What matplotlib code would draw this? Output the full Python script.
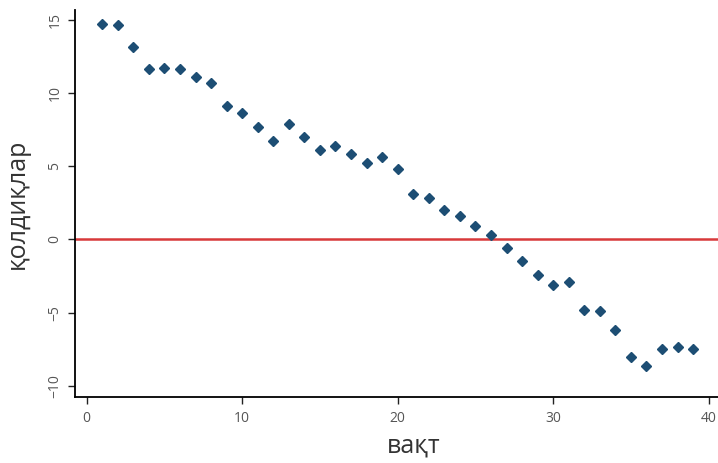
import numpy as np
import matplotlib
matplotlib.use("Agg")
import matplotlib.pyplot as plt

plt.rcParams['font.family'] = ['Open Sans', 'DejaVu Sans']

# vaqt (time) and residuals
vaqt = list(range(1, 40))
qoldiqlar = [14.7, 14.6, 13.1, 11.6, 11.7, 11.6, 11.1, 10.7, 9.1, 8.6,
             7.7, 6.7, 7.9, 7.0, 6.1, 6.4, 5.8, 5.2, 5.6, 4.8,
             3.1, 2.8, 2.0, 1.6, 0.9, 0.3, -0.6, -1.5, -2.4, -3.1,
             -2.9, -4.8, -4.9, -6.2, -8.0, -8.6, -7.5, -7.3, -7.5]
x_ticks = [0, 10, 20, 30, 40]
y_ticks = [-10, -5, 0, 5, 10, 15]

fig = plt.figure(figsize=(7.18, 4.63), dpi=100)
ax = fig.add_axes([0.1045, 0.142, 0.8955, 0.836])

ax.axhline(0, color='#d8393b', linewidth=1.8, zorder=1)
ax.plot(vaqt, qoldiqlar, linestyle='none', marker='D', markersize=5.5,
        color='#1d4e74', zorder=2)

ax.set_xlim(-0.75, 40.6)
ax.set_ylim(-10.76, 15.64)
ax.set_xticks(x_ticks)
ax.set_yticks(y_ticks)
ax.set_yticklabels([str(v).replace('-', '\u2212') for v in y_ticks],
                   rotation=90, va='center')

for s in ['top', 'right']:
    ax.spines[s].set_visible(False)
for s in ['left', 'bottom']:
    ax.spines[s].set_linewidth(1.3)

ax.tick_params(axis='both', length=5, width=1, color='#222222',
               labelsize=10, labelcolor='#555555', pad=4)
ax.tick_params(axis='x', pad=5)

ax.set_xlabel('вақт', fontsize=18, color='#333333', labelpad=5)
ax.xaxis.label.set_x(0.526)
ax.set_ylabel('қолдиқлар', fontsize=18, color='#333333', labelpad=13)

fig.savefig('out.png', dpi=100)
